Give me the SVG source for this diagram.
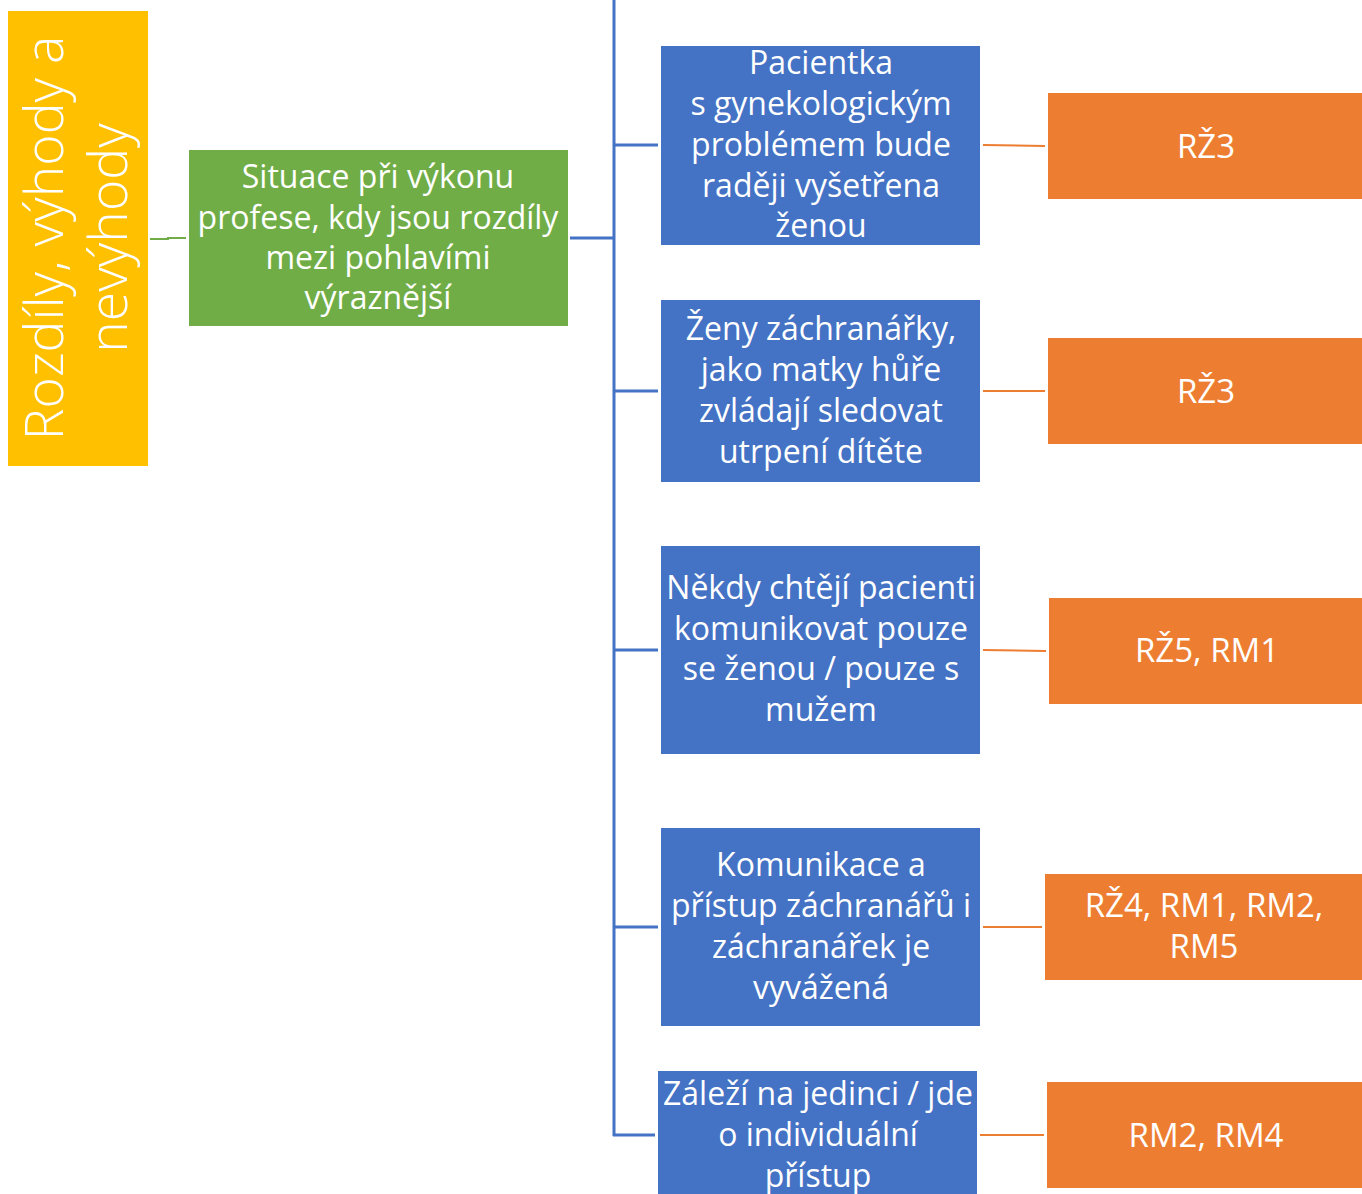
<svg xmlns="http://www.w3.org/2000/svg" width="1362" height="1194" viewBox="0 0 1362 1194">
<style>
.t{font-family:"Open Sans","Noto Sans","DejaVu Sans",sans-serif;fill:#fff;text-anchor:middle;font-size:32px}
.big{font-size:53.5px;font-weight:300}
.sm{font-size:33px}
.yel{fill:#FFC000}.grn{fill:#70AD47}.blu{fill:#4472C4}.org{fill:#ED7D31}
.cb{stroke:#4472C4;stroke-width:3;fill:none}
.co{stroke:#ED7D31;stroke-width:2;fill:none}
.cg{stroke:#70AD47;stroke-width:2;fill:none}
</style>
<g id="connectors">
<polyline class="cg" points="150,239 168,239 168,238 186,238"/>
<line class="cb" x1="570" y1="238" x2="614" y2="238"/>
<line class="cb" x1="614" y1="0" x2="614" y2="1136"/>
<line class="cb" x1="614" y1="145" x2="658" y2="145"/>
<line class="cb" x1="614" y1="391" x2="658" y2="391"/>
<line class="cb" x1="614" y1="650" x2="658" y2="650"/>
<line class="cb" x1="614" y1="927" x2="658" y2="927"/>
<line class="cb" x1="613" y1="1135" x2="655" y2="1135"/>
<line class="co" x1="983" y1="145" x2="1045" y2="146"/>
<line class="co" x1="983" y1="391" x2="1045" y2="391"/>
<line class="co" x1="983" y1="650" x2="1046" y2="651"/>
<line class="co" x1="983" y1="927" x2="1042" y2="927"/>
<line class="co" x1="980" y1="1135" x2="1044" y2="1135"/>
</g>
<g id="root">
<rect class="yel" x="8" y="11" width="140" height="455"/>
<text class="t big" transform="translate(78,238) rotate(-90)"><tspan x="0" y="-15">Rozdíly, výhody a</tspan><tspan x="0" y="49">nevýhody</tspan></text>
</g>
<g id="situace">
<rect class="grn" x="189" y="150" width="379" height="176"/>
<text class="t"><tspan x="378" y="188">Situace při výkonu</tspan><tspan x="378" y="229">profese, kdy jsou rozdíly</tspan><tspan x="378" y="269">mezi pohlavími</tspan><tspan x="378" y="309">výraznější</tspan></text>
</g>
<g id="b1">
<rect class="blu" x="661" y="46" width="319" height="199"/>
<text class="t"><tspan x="821" y="74">Pacientka</tspan><tspan x="821" y="115">s gynekologickým</tspan><tspan x="821" y="156">problémem bude</tspan><tspan x="821" y="197">raději vyšetřena</tspan><tspan x="821" y="237">ženou</tspan></text>
</g>
<g id="b2">
<rect class="blu" x="661" y="300" width="319" height="182"/>
<text class="t"><tspan x="821" y="340">Ženy záchranářky,</tspan><tspan x="821" y="381">jako matky hůře</tspan><tspan x="821" y="422">zvládají sledovat</tspan><tspan x="821" y="463">utrpení dítěte</tspan></text>
</g>
<g id="b3">
<rect class="blu" x="661" y="546" width="319" height="208"/>
<text class="t"><tspan x="821" y="599">Někdy chtějí pacienti</tspan><tspan x="821" y="640">komunikovat pouze</tspan><tspan x="821" y="680">se ženou / pouze s</tspan><tspan x="821" y="721">mužem</tspan></text>
</g>
<g id="b4">
<rect class="blu" x="661" y="828" width="319" height="198"/>
<text class="t"><tspan x="821" y="876">Komunikace a</tspan><tspan x="821" y="917">přístup záchranářů i</tspan><tspan x="821" y="958">záchranářek je</tspan><tspan x="821" y="999">vyvážená</tspan></text>
</g>
<g id="b5">
<rect class="blu" x="658" y="1071" width="319" height="123"/>
<text class="t"><tspan x="818" y="1105">Záleží na jedinci / jde</tspan><tspan x="818" y="1146">o individuální</tspan><tspan x="818" y="1187">přístup</tspan></text>
</g>
<g id="o1">
<rect class="org" x="1048" y="93" width="314" height="106"/>
<text class="t sm" x="1206" y="158">RŽ3</text>
</g>
<g id="o2">
<rect class="org" x="1048" y="338" width="314" height="106"/>
<text class="t sm" x="1206" y="403">RŽ3</text>
</g>
<g id="o3">
<rect class="org" x="1049" y="598" width="313" height="106"/>
<text class="t sm" x="1207" y="662">RŽ5, RM1</text>
</g>
<g id="o4">
<rect class="org" x="1045" y="874" width="317" height="106"/>
<text class="t sm"><tspan x="1204" y="917">RŽ4, RM1, RM2,</tspan><tspan x="1204" y="958">RM5</tspan></text>
</g>
<g id="o5">
<rect class="org" x="1047" y="1082" width="315" height="106"/>
<text class="t sm" x="1206" y="1147">RM2, RM4</text>
</g>
</svg>
